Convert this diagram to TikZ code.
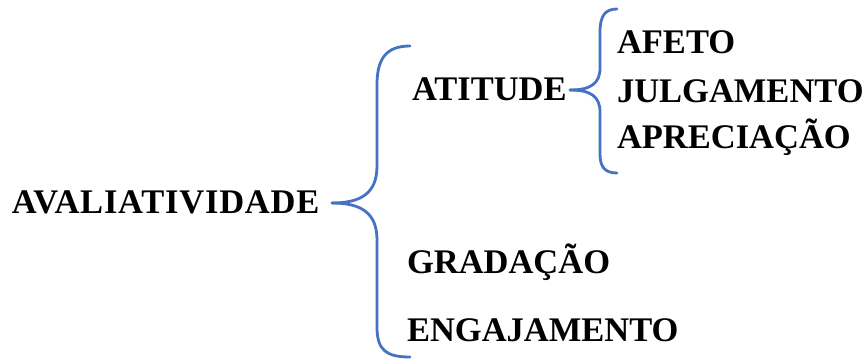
\documentclass[tikz,border=0pt]{standalone}
\usepackage{fontspec}
\setmainfont{Liberation Serif}
\newfontfamily\spacedserif[LetterSpace=2.3]{Liberation Serif}
\definecolor{bracecol}{HTML}{4472C4}
\begin{document}
\begin{tikzpicture}[x=1pt,y=-1pt,
  lbl/.style={anchor=base west,inner sep=0pt,outer sep=0pt,font=\fontsize{34.5}{40}\selectfont\bfseries},
  bracepath/.style={draw=bracecol,line width=2.8pt,line cap=round,line join=round}]
\useasboundingbox (0,0) rectangle (865,359);
% labels
\node[lbl,font=\spacedserif\fontsize{34.5}{40}\selectfont\bfseries] (aval) at (12,213) {AVALIATIVIDADE};
\node[lbl] (atit) at (412,100) {ATITUDE};
\node[lbl] (grad) at (407,273) {GRADAÇÃO};
\node[lbl] (enga) at (407,341) {ENGAJAMENTO};
\node[lbl] (afeto) at (617,53) {AFETO};
\node[lbl] (julg) at (617,102) {JULGAMENTO};
\node[lbl] (apre) at (617,148) {APRECIAÇÃO};
% big brace
\coordinate (bigtip) at (332,203);
\coordinate (bigtop) at (410,46);
\coordinate (bigbot) at (410,357);
\draw[bracepath] (bigtop) .. controls (385,46) and (377,60) .. (377,85) -- (377,166)
  .. controls (377,194) and (360,203) .. (bigtip);
\draw[bracepath] (bigtip) .. controls (360,203) and (377,212) .. (377,240) -- (377,327)
  .. controls (377,350) and (386,357) .. (bigbot);
% small brace
\coordinate (smtip) at (570,90);
\coordinate (smtop) at (617,9);
\coordinate (smbot) at (617,173);
\draw[bracepath] (smtop) .. controls (605,9) and (600,16) .. (600,32) -- (600,68)
  .. controls (600,84) and (590,90) .. (smtip);
\draw[bracepath] (smtip) .. controls (590,90) and (600,96) .. (600,112) -- (600,154)
  .. controls (600,167) and (605,173) .. (smbot);
\end{tikzpicture}
\end{document}
